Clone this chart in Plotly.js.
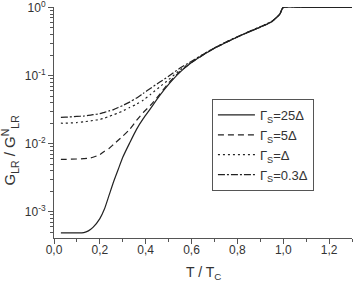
<!DOCTYPE html>
<html>
<head>
<meta charset="utf-8">
<script src="https://cdn.plot.ly/plotly-3.0.1.min.js"></script>
<style>
html,body{margin:0;padding:0;background:#fff;}
#chart{width:354px;height:284px;}
</style>
</head>
<body>
<div id="chart"></div>
<script>
// T / Tc values (shared)
const T = [0.03,0.05,0.1,0.13,0.15,0.17,0.2,0.22,0.24,0.26,0.28,0.3,0.33,0.36,0.39,0.42,0.46,0.5,0.55,0.6,0.65,0.7,0.75,0.8,0.85,0.9,0.95,0.97,0.985,1.0,1.1,1.2,1.3];
// log10 of G_LR / G^N_LR
const logG25 = [-3.31,-3.31,-3.31,-3.305,-3.28,-3.23,-3.10,-2.96,-2.76,-2.56,-2.38,-2.20,-1.99,-1.79,-1.63,-1.49,-1.30,-1.13,-0.95,-0.81,-0.70,-0.60,-0.515,-0.435,-0.36,-0.29,-0.21,-0.15,-0.10,0,0,0,0];
const logG5  = [-2.23,-2.23,-2.225,-2.22,-2.215,-2.20,-2.16,-2.11,-2.07,-2.01,-1.95,-1.89,-1.79,-1.66,-1.54,-1.44,-1.28,-1.11,-0.94,-0.81,-0.70,-0.60,-0.515,-0.435,-0.36,-0.29,-0.21,-0.15,-0.10,0,0,0,0];
const logG1  = [-1.70,-1.70,-1.69,-1.68,-1.67,-1.66,-1.645,-1.625,-1.60,-1.575,-1.55,-1.52,-1.47,-1.42,-1.36,-1.28,-1.17,-1.06,-0.92,-0.80,-0.69,-0.595,-0.51,-0.43,-0.355,-0.285,-0.205,-0.15,-0.10,0,0,0,0];
const logG03 = [-1.615,-1.612,-1.60,-1.595,-1.585,-1.575,-1.56,-1.54,-1.52,-1.50,-1.47,-1.44,-1.39,-1.33,-1.26,-1.19,-1.10,-1.01,-0.89,-0.79,-0.69,-0.595,-0.51,-0.43,-0.355,-0.285,-0.205,-0.15,-0.10,0,0,0,0];
const seriesNames = ['Γ<sub>S</sub>=25Δ','Γ<sub>S</sub>=5Δ','Γ<sub>S</sub>=Δ','Γ<sub>S</sub>=0.3Δ'];
const yTickVals = [1e-3,1e-2,1e-1,1];
const yTickText = ['10<sup>-3</sup>','10<sup>-2</sup>','10<sup>-1</sup>','10<sup>0</sup>'];
const xTickVals = [0,0.2,0.4,0.6,0.8,1.0,1.2];
const xTickText = ['0,0','0,2','0,4','0,6','0,8','1,0','1,2'];

const toG = a => a.map(v => Math.pow(10, v));
const dashes = ['solid','6px,4px','2px,3px','7px,2px,2px,2px'];
const data = [logG25, logG5, logG1, logG03].map((s,i) => ({
  x: T, y: toG(s), type:'scatter', mode:'lines', name: seriesNames[i],
  line:{color:'#222', width:1.2, dash:dashes[i], shape:'spline', smoothing:0.6}
}));

// minor tick positions for the log axis (2..9 per decade)
const minorY = [];
for (let e=-4; e<=0; e++) for (let k=2; k<=9; k++) { const v = k*Math.pow(10,e); if (v>4e-4 && v<1) minorY.push(v); }

const font = {family:'Liberation Sans, Arial, sans-serif', color:'#333', size:12};
const layout = {
  width:354, height:284,
  margin:{l:54, r:2, t:7, b:46},
  paper_bgcolor:'#fff', plot_bgcolor:'#fff',
  font: font,
  showlegend:true,
  legend:{x:0.53, y:0.602, xanchor:'left', yanchor:'top', bgcolor:'#fff', bordercolor:'#555', borderwidth:1,
          font:{family:'Liberation Sans, Arial, sans-serif', size:13, color:'#333'}, itemwidth:37, tracegroupgap:0},
  xaxis:{range:[0,1.3], showgrid:false, zeroline:false, showline:true, linecolor:'#555', linewidth:1,
         tickmode:'array', tickvals:xTickVals, ticktext:xTickText, ticks:'outside', ticklen:5, tickcolor:'#555',
         ticklabelstandoff:-4,
         minor:{dtick:0.1, ticks:'outside', ticklen:3, tickcolor:'#555', showgrid:false},
         tickfont:{size:12, color:'#333'}},
  yaxis:{type:'log', range:[-3.385,0.006], showgrid:false, zeroline:false, showline:true, linecolor:'#555', linewidth:1,
         tickmode:'array', tickvals:yTickVals, ticktext:yTickText, ticks:'outside', ticklen:5, tickcolor:'#555',
         ticklabeloverflow:'allow',
         minor:{tickmode:'array', tickvals:minorY, ticks:'outside', ticklen:3, tickcolor:'#555', showgrid:false},
         tickfont:{size:12, color:'#333'}},
  annotations:[
    {text:'T / T<sub>C</sub>', xref:'paper', yref:'paper', x:0.5, y:-0.105, xanchor:'center', yanchor:'top', showarrow:false,
     font:{size:14, color:'#333'}},
    {text:'G<sub>LR</sub> / G<sup>N</sup><sub>LR</sub>', xref:'paper', yref:'paper', x:-0.15, y:0.38, xanchor:'center', yanchor:'middle',
     textangle:-90, showarrow:false, font:{size:15, color:'#333'}}
  ]
};
Plotly.newPlot('chart', data, layout, {displayModeBar:false, staticPlot:true});
</script>
</body>
</html>
